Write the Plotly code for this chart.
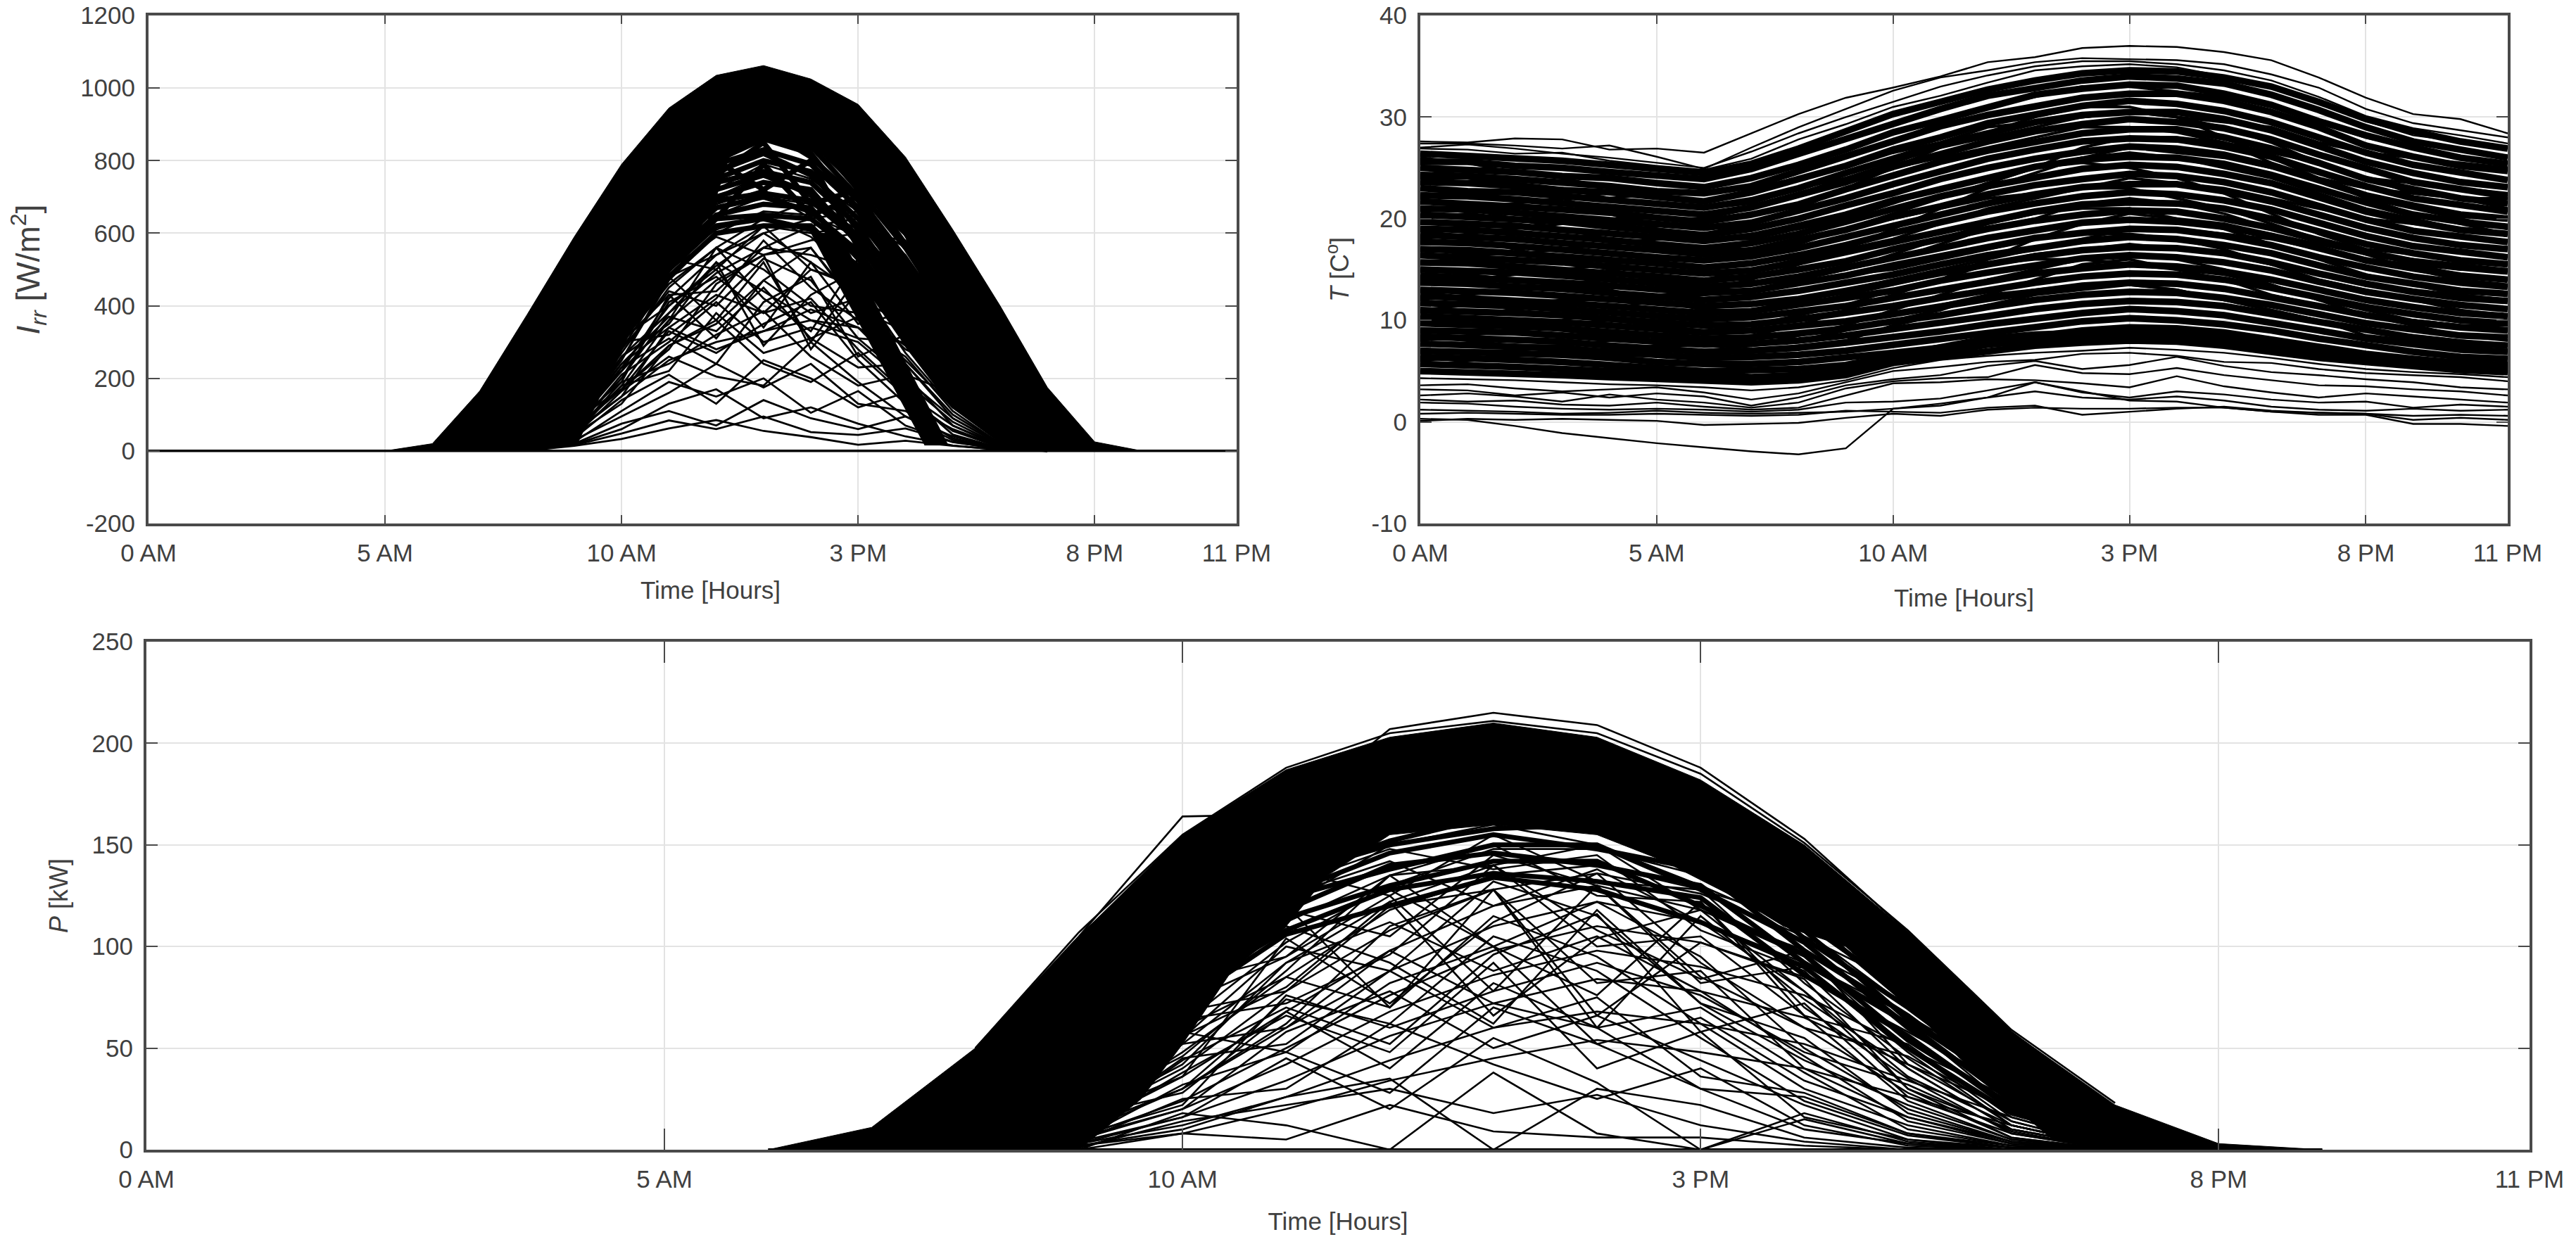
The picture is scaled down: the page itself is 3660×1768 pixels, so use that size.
import plotly.graph_objects as go

W, H = 3660, 1768
PAGE = 8  # the browser's default body margin
hours = list(range(24))
lace_hours = list(range(8, 20))
dome_hours = list(range(9, 19))
tick_vals = [0, 5, 10, 15, 20, 23]
tick_text = ["0 AM", "5 AM", "10 AM", "3 PM", "8 PM", "11 PM"]
irr_ticks = [-200, 0, 200, 400, 600, 800, 1000, 1200]
temp_ticks = [-10, 0, 10, 20, 30, 40]
pow_ticks = [0, 50, 100, 150, 200, 250]

# ---- Irradiance: envelope of the solid band
irr_band_x = [5, 6, 7, 8, 9, 10, 11, 12, 13, 14, 15, 16, 17, 18, 19, 20, 21,
              20, 19, 18.1, 17.2, 16.55, 16.0, 15.0, 14.2, 13.0, 12.3, 12.0, 11.6, 11.2, 10.6, 9.9, 9.05, 8, 7, 6]
irr_band_y = [0, 20, 165, 375, 590, 790, 945, 1035, 1062, 1025, 955, 810, 610, 400, 175, 25, 0,
              0, 0, 0, 200, 400, 590, 720, 820, 860, 820, 700, 600, 540, 447, 248, 16, 2, 0, 0]
irr_stripe_x = [14.0, 14.6, 16.9, 16.4]
irr_stripe_y = [600, 600, 16, 16]
irr_dome = [
    [300, 560, 770, 900, 935, 880, 770, 600, 390, 170],
    [290, 540, 740, 870, 925, 860, 750, 570, 370, 150],
    [280, 530, 730, 850, 900, 870, 720, 560, 360, 140],
    [270, 520, 710, 840, 880, 840, 700, 530, 340, 130],
    [260, 500, 700, 820, 890, 810, 690, 520, 320, 120],
    [250, 490, 680, 800, 860, 820, 660, 500, 300, 110],
    [240, 470, 660, 790, 830, 790, 670, 480, 290, 100],
    [230, 460, 650, 770, 820, 760, 640, 470, 270, 90],
    [220, 440, 630, 750, 800, 770, 610, 450, 260, 80],
    [210, 430, 610, 740, 770, 740, 620, 430, 240, 75],
    [200, 410, 600, 720, 760, 710, 590, 420, 230, 70],
    [190, 400, 580, 700, 740, 720, 570, 400, 210, 60],
    [180, 380, 560, 690, 710, 690, 580, 380, 200, 55],
    [170, 370, 550, 670, 700, 660, 550, 370, 180, 50],
    [160, 350, 530, 650, 680, 670, 530, 350, 170, 45],
    [150, 340, 510, 640, 650, 640, 540, 330, 160, 40],
    [140, 320, 500, 620, 640, 610, 510, 320, 140, 35],
    [130, 310, 480, 600, 620, 620, 490, 300, 130, 30],
    [260, 430, 700, 760, 850, 680, 720, 480, 360, 90],
    [200, 520, 620, 800, 720, 800, 560, 520, 240, 100],
    [170, 420, 680, 640, 790, 650, 700, 410, 300, 70],
]
irr_lace = [
    [1, 14, 33, 62, 85, 55, 38, 17, 28, 14, 4, 0],
    [1, 16, 48, 84, 60, 95, 52, 44, 62, 24, 6, 0],
    [2, 20, 75, 110, 70, 140, 90, 60, 95, 30, 6, 0],
    [2, 18, 60, 130, 170, 90, 120, 75, 40, 15, 3, 0],
    [3, 25, 110, 190, 150, 200, 105, 165, 70, 25, 5, 0],
    [3, 30, 95, 160, 240, 175, 240, 130, 110, 35, 6, 0],
    [4, 35, 140, 210, 130, 250, 200, 120, 160, 45, 8, 0],
    [4, 40, 165, 260, 205, 180, 300, 190, 95, 40, 8, 0],
    [5, 45, 130, 290, 360, 240, 190, 270, 150, 55, 10, 0],
    [5, 50, 190, 240, 320, 385, 260, 180, 210, 70, 12, 0],
    [6, 60, 170, 330, 270, 350, 410, 250, 130, 60, 12, 0],
    [6, 55, 210, 300, 410, 300, 340, 300, 190, 80, 15, 0],
    [7, 70, 240, 370, 330, 450, 310, 230, 240, 90, 18, 1],
    [7, 65, 200, 410, 480, 380, 420, 280, 160, 70, 15, 0],
    [8, 80, 260, 380, 520, 440, 360, 340, 260, 110, 20, 1],
    [8, 75, 280, 440, 400, 530, 470, 310, 200, 90, 18, 1],
    [9, 85, 300, 460, 560, 500, 400, 380, 290, 120, 25, 1],
    [9, 90, 250, 480, 540, 600, 520, 430, 240, 100, 20, 1],
    [10, 100, 320, 500, 590, 540, 560, 390, 330, 150, 30, 2],
    [10, 95, 330, 530, 500, 620, 500, 460, 270, 120, 25, 1],
    [12, 110, 340, 520, 610, 650, 590, 470, 360, 170, 35, 2],
    [15, 130, 370, 560, 680, 720, 640, 560, 420, 200, 45, 2],
    [20, 150, 390, 590, 700, 760, 700, 600, 470, 240, 50, 3],
    [25, 170, 410, 610, 720, 790, 750, 660, 500, 260, 60, 4],
    [8, 95, 290, 510, 650, 700, 680, 610, 470, 250, 55, 3],
    [6, 80, 250, 470, 600, 660, 650, 590, 480, 280, 70, 4],
    [10, 90, 270, 450, 560, 640, 690, 640, 520, 310, 90, 6],
    [5, 70, 220, 420, 540, 620, 600, 620, 500, 330, 100, 8],
    [7, 75, 230, 400, 510, 600, 640, 660, 540, 350, 120, 10],
    [4, 60, 200, 380, 490, 560, 620, 640, 560, 370, 140, 12],
    [3, 50, 180, 360, 470, 540, 580, 600, 580, 390, 160, 15],
    [12, 120, 300, 430, 440, 560, 540, 500, 430, 300, 110, 12],
    [9, 85, 240, 340, 430, 380, 500, 450, 380, 260, 125, 14],
    [6, 60, 170, 290, 350, 470, 380, 420, 350, 230, 95, 10],
    [5, 50, 150, 250, 300, 330, 360, 310, 300, 200, 80, 8],
    [10, 120, 280, 480, 360, 520, 300, 480, 310, 180, 60, 6],
    [8, 100, 310, 400, 500, 340, 520, 350, 380, 210, 70, 6],
    [9, 110, 220, 360, 560, 420, 330, 530, 300, 240, 85, 7],
    [7, 90, 300, 320, 420, 580, 450, 360, 420, 190, 65, 5],
    [6, 80, 190, 430, 310, 470, 560, 400, 280, 220, 75, 6],
    [5, 70, 260, 350, 520, 290, 430, 500, 340, 170, 55, 4],
    [6, 85, 170, 280, 460, 540, 280, 440, 370, 150, 50, 3],
    [5, 60, 230, 310, 240, 410, 480, 260, 320, 140, 40, 2],
    [4, 55, 150, 340, 280, 330, 390, 340, 210, 160, 45, 3],
    [3, 45, 180, 220, 380, 270, 310, 370, 250, 120, 35, 2],
]

# ---- Temperature: one line per day
temp_core = [
    [26.4,26.2,26.0,25.7,25.3,24.9,24.5,25.4,26.9,28.6,30.3,31.5,32.7,33.6,34.3,34.6,34.5,33.9,33.0,31.5,29.8,28.6,27.6,26.9],
    [25.6,25.6,25.2,25.0,24.6,24.2,23.9,24.9,26.4,27.8,29.4,30.8,32.1,32.9,33.6,34.0,33.8,33.3,32.2,30.7,29.0,27.6,26.8,26.0],
    [25.0,24.8,24.6,24.2,24.0,23.5,23.1,24.0,25.3,26.8,28.5,29.7,31.0,32.2,32.8,33.2,33.1,32.3,31.2,29.6,28.2,27.0,26.0,25.4],
    [24.3,24.2,23.9,23.6,23.2,22.7,22.5,23.2,24.7,26.2,27.6,29.1,30.2,31.1,31.9,32.3,32.3,31.6,30.5,29.0,27.2,26.1,25.2,24.7],
    [23.6,23.5,23.2,22.8,22.6,22.1,21.7,22.6,23.9,25.2,26.8,28.0,29.4,30.3,31.1,31.6,31.3,30.6,29.5,28.0,26.5,25.3,24.5,23.8],
    [23.0,22.7,22.6,22.2,21.8,21.5,21.1,21.8,23.0,24.5,25.9,27.3,28.4,29.5,30.2,30.5,30.5,29.8,28.7,27.2,25.6,24.5,23.6,23.1],
    [22.3,22.2,21.9,21.5,21.2,20.7,20.4,21.1,22.3,23.6,25.1,26.3,27.6,28.6,29.3,29.8,29.5,28.9,27.8,26.3,24.9,23.6,22.9,22.2],
    [21.7,21.5,21.2,20.9,20.6,20.1,19.7,20.4,21.4,22.9,24.2,25.6,26.7,27.6,28.4,28.8,28.8,28.0,26.9,25.5,23.9,22.9,22.0,21.5],
    [21.0,20.9,20.6,20.2,19.8,19.5,19.1,19.6,20.8,22.0,23.4,24.6,25.9,26.8,27.6,27.9,27.8,27.1,26.1,24.6,23.2,22.0,21.3,20.7],
    [20.4,20.2,19.9,19.7,19.2,18.8,18.4,19.0,20.0,21.3,22.5,23.9,25.0,25.9,26.6,27.1,26.9,26.3,25.2,23.8,22.3,21.3,20.4,20.0],
    [19.7,19.5,19.3,18.9,18.6,18.2,17.8,18.3,19.3,20.4,21.8,22.9,24.1,25.1,25.8,26.1,26.0,25.4,24.3,22.9,21.6,20.4,19.7,19.2],
    [19.0,18.9,18.6,18.3,17.9,17.5,17.1,17.6,18.5,19.7,20.9,22.2,23.2,24.1,24.9,25.3,25.1,24.4,23.5,22.1,20.7,19.7,18.9,18.5],
    [18.4,18.2,18.0,17.6,17.3,16.9,16.5,16.9,17.9,18.9,20.2,21.2,22.4,23.3,23.9,24.4,24.2,23.6,22.6,21.3,19.9,18.8,18.2,17.7],
    [17.7,17.6,17.3,17.0,16.6,16.2,15.9,16.3,17.1,18.2,19.3,20.5,21.5,22.4,23.1,23.4,23.4,22.7,21.7,20.4,19.1,18.1,17.4,17.0],
    [17.0,16.9,16.6,16.3,16.0,15.6,15.2,15.6,16.4,17.4,18.6,19.6,20.7,21.5,22.2,22.6,22.4,21.8,20.9,19.6,18.3,17.3,16.7,16.2],
    [16.4,16.2,16.0,15.7,15.3,14.9,14.6,14.9,15.7,16.7,17.7,18.8,19.8,20.7,21.4,21.6,21.5,21.0,20.0,18.7,17.5,16.6,15.9,15.5],
    [15.7,15.6,15.3,15.0,14.7,14.3,13.9,14.3,15.0,15.8,17.0,18.0,19.0,19.8,20.4,20.8,20.7,20.0,19.1,17.9,16.7,15.8,15.2,14.8],
    [15.0,14.9,14.7,14.4,14.0,13.6,13.3,13.6,14.3,15.2,16.1,17.1,18.1,18.9,19.6,19.9,19.7,19.2,18.3,17.1,15.9,15.1,14.4,14.0],
    [14.4,14.2,14.0,13.7,13.4,13.0,12.7,12.9,13.6,14.4,15.4,16.3,17.2,18.1,18.6,19.0,18.9,18.3,17.4,16.2,15.2,14.3,13.7,13.3],
    [13.7,13.6,13.3,13.1,12.7,12.3,12.0,12.3,12.9,13.7,14.5,15.5,16.4,17.1,17.8,18.2,18.0,17.4,16.6,15.4,14.3,13.6,12.9,12.6],
    [13.0,12.9,12.7,12.4,12.1,11.7,11.4,11.6,12.1,12.9,13.8,14.6,15.5,16.3,16.9,17.2,17.1,16.6,15.7,14.6,13.6,12.8,12.2,11.9],
    [12.4,12.2,12.0,11.7,11.4,11.1,10.7,10.9,11.5,12.2,12.9,13.9,14.7,15.4,16.1,16.4,16.2,15.7,14.9,13.8,12.8,12.1,11.5,11.1],
    [11.7,11.6,11.4,11.1,10.8,10.4,10.1,10.3,10.8,11.4,12.2,13.0,13.8,14.6,15.1,15.5,15.3,14.8,14.0,13.0,12.0,11.3,10.7,10.4],
    [11.0,10.9,10.7,10.5,10.1,9.8,9.5,9.6,10.1,10.7,11.4,12.2,13.0,13.7,14.3,14.6,14.5,14.0,13.2,12.2,11.3,10.6,10.0,9.7],
    [10.4,10.2,10.1,9.8,9.5,9.1,8.8,9.0,9.4,9.9,10.6,11.4,12.1,12.8,13.4,13.7,13.6,13.1,12.3,11.4,10.5,9.8,9.3,9.0],
    [9.7,9.6,9.4,9.2,8.8,8.5,8.2,8.3,8.7,9.2,9.9,10.5,11.3,12.0,12.5,12.8,12.7,12.2,11.5,10.6,9.7,9.1,8.5,8.3],
    [9.0,8.9,8.8,8.5,8.2,7.8,7.6,7.7,8.0,8.5,9.1,9.7,10.4,11.1,11.6,11.9,11.8,11.4,10.6,9.8,9.0,8.3,7.8,7.5],
    [8.4,8.2,8.1,7.9,7.5,7.2,6.9,7.0,7.3,7.8,8.3,8.9,9.6,10.2,10.7,11.1,10.9,10.5,9.8,9.0,8.2,7.6,7.1,6.9],
    [7.7,7.6,7.4,7.2,6.9,6.6,6.3,6.4,6.6,7.0,7.6,8.1,8.7,9.4,9.9,10.2,10.0,9.6,9.0,8.2,7.5,6.9,6.4,6.2],
    [7.0,6.9,6.8,6.6,6.3,5.9,5.7,5.7,5.9,6.3,6.8,7.3,7.9,8.5,9.0,9.3,9.2,8.8,8.1,7.4,6.7,6.2,5.8,5.6],
    [6.4,6.3,6.1,5.9,5.6,5.3,5.0,5.1,5.2,5.6,6.5,7.4,8.2,8.6,8.8,8.9,8.8,8.4,7.8,7.1,6.4,6.0,5.6,5.4],
    [5.7,5.6,5.4,5.2,5.0,4.7,4.5,4.4,4.6,5.0,6.1,6.9,7.6,8.0,8.2,8.4,8.3,7.9,7.3,6.7,6.2,5.8,5.4,5.1],
    [5.0,4.9,4.8,4.6,4.4,4.2,4.0,3.9,4.1,4.6,5.8,6.4,7.0,7.5,7.8,8.0,7.9,7.5,6.9,6.3,5.9,5.5,5.1,4.9],
]
temp_cross = [
    [24,24,23.5,23,22,21.5,21,21.5,23,24,25,26,27,28,29,29,28.5,27.5,25.5,24,22,21,20,19],
    [18,18.5,19,19.5,20,20,20,21,22.5,24,25.5,27,28,29,30,30.5,30,29.5,29,27.5,26.5,26,25.5,25],
    [12,12.5,13,13.5,14,14,14,15,16,17,18,19.5,21,22,23,24,23.5,23,22,21,20,19.5,19,18.5],
    [8,8.5,9,9.5,10,10,10.5,11,12,13,14,15,16,17,18,19,19,18.5,18,17,16,15.5,15,15],
    [22,21,20,19,18,17.5,17,17,18,19,20,21,22,22.5,23,23,22,21,19.5,18,16.5,15,14,13.5],
    [15,14.5,14,13.5,13,12,11,11,11.5,12.5,13.5,14.5,15.5,16,16,15.5,15,14.5,13.5,12,11,10,9.5,9],
    [10,10,9.5,9,8.5,8,7.5,7.5,8.5,9.5,11,12.5,14,15,16,16.5,16,15,13.5,12,10.5,9.5,8.5,8],
    [6,6.5,7,7.5,8,8.5,9,9.5,10.5,11.5,13,14,15.5,16.5,17,17.5,17,16.5,15.5,14.5,13.5,13,12.5,12],
    [20,20.5,20,20,19.5,19,18.5,19.5,21,23,25,27,28.5,30,31,31,30,28,26,24,22,20.5,19.5,18.5],
    [26,25.5,24.5,24,23,22.5,22.5,23,24,25,26.5,27.5,29,29.5,30,30.5,30,29,27.5,25.5,24,22.5,22,21],
    [14,14,14.5,15,15.5,16,16,16.5,17.5,19,20.5,22,23.5,25,26,27,26.5,26,25,24,23,22.5,22,22],
    [16.5,16,15,14.5,14,13.5,13,13,13.5,14.5,15,16,17,18,18.5,18.5,18,17,15.5,14,13,12,11,10.5],
    [11,11.5,11.5,12,12,12.5,12.5,13,14,15,16,17.5,19,20,21.5,22,21.5,20.5,19,18,17,16.5,16,15.5],
    [7,7,7,6.5,6.5,6.5,6.5,7,7.5,8,9.5,10.5,11.5,12.5,13,13.5,13,12,11,10,8.5,8,7.5,7],
    [9,9,9.5,10,11,12,13,14,15.5,17,19,21,23,24.5,26,26.5,26,25,24,22.5,21,20,19,18.5],
    [25,24,23,22,20.5,19,18,18,19,20,21.5,23,24,25,25.5,25,24,22.5,20.5,18.5,17,15.5,14.5,14],
    [17,16.5,16.5,17,17.5,18,18,18.5,19,20,21,22,23.5,25,27,28,28,27.5,26.5,25.5,24,23.5,23,22.5],
    [13,12,11,10.5,10,9.5,9,9,9.5,10,10.5,11.5,12.5,13,13.5,13.5,13,12,11,10,9,8.5,8,7.5],
    [5.5,6,6.5,7,7,7.5,7.5,8.5,9.5,11,12.5,14,16,18,19.5,20.5,20,19.5,18.5,17.5,16.5,16,15.5,15],
    [21,21,21.5,22,22,22.5,22.5,23,24.5,26,27.5,29.5,31,32,33,33,32.5,32,31,29.5,28,27,26,25.5],
    [19,18,17,16,15,14,13.5,13.5,14,15,16.5,18,19.5,20.5,21,21,20,19,17.5,16,14.5,13.5,12.5,12],
    [8.5,8,7.5,7.5,7,7,7,7.5,8,9,10,11,12.5,14,15.5,16,15,14,12.5,11.5,10.5,10,9.5,9.5],
]
temp_thin = [
    [27.6,27.5,27.9,27.8,26.8,26.9,26.5,28.4,30.3,31.9,32.9,34.0,35.4,35.9,36.8,37.0,36.9,36.4,35.6,33.9,31.9,30.3,29.8,28.4],
    [27.4,27.4,27.2,26.9,27.2,26.1,24.9,27.0,29.0,30.8,32.6,33.9,34.6,35.4,35.8,35.7,35.6,35.2,34.2,32.9,30.8,29.4,28.7,28.0],
    [27.0,27.3,26.9,26.4,26.0,25.5,25.0,26.6,28.4,30.0,31.5,33.0,34.1,35.0,35.5,35.5,35.2,34.6,33.6,32.0,30.1,28.9,28.2,27.4],
    [26.9,26.8,26.4,26.5,25.7,25.2,24.8,25.9,27.8,29.3,31.0,32.1,33.4,34.6,35.0,35.2,34.9,34.0,33.0,31.3,29.6,28.2,27.6,27.1],
    [4.3,4.2,4.1,3.9,3.7,3.6,3.4,3.1,3.4,4.1,5.3,6.1,6.5,6.8,7.0,7.3,7.1,6.8,6.3,5.7,5.2,4.9,4.7,4.4],
    [3.6,3.7,3.3,3.0,3.2,3.4,2.9,2.2,2.8,3.9,5.0,5.4,5.9,6.1,6.7,6.8,6.5,5.9,5.8,5.2,4.8,4.6,4.4,4.0],
    [3.2,3.1,2.6,2.9,2.4,2.8,2.5,1.6,2.4,3.6,4.2,4.6,5.5,6.0,5.2,5.6,6.4,5.5,4.9,4.6,4.2,3.9,3.4,3.2],
    [2.6,2.8,2.5,2.0,2.7,2.2,1.9,1.4,1.9,3.3,4.0,4.3,4.4,5.6,4.8,4.7,5.3,4.6,4.1,3.6,3.5,3.2,3.0,2.6],
    [2.2,2.0,2.1,1.7,1.6,1.9,1.5,1.2,1.4,2.6,3.8,3.9,4.2,4.1,3.8,3.4,4.5,3.5,2.9,2.4,2.8,2.5,2.2,1.9],
    [1.9,1.8,1.5,1.3,1.2,1.3,1.2,1.0,1.2,1.9,2.0,2.3,3.1,3.9,2.9,2.4,3.0,2.7,2.2,1.9,2.0,1.4,1.7,1.5],
    [1.2,1.1,1.0,0.8,0.9,1.1,0.9,0.8,0.9,1.0,1.3,1.6,2.4,3.0,2.4,2.2,2.5,2.1,1.5,1.2,1.1,1.3,1.1,1.2],
    [0.8,0.9,0.8,0.7,0.7,0.8,0.7,0.6,0.7,1.1,1.0,0.9,1.4,1.6,0.7,1.0,1.3,1.5,1.1,0.9,0.8,0.6,0.7,0.6],
    [0.1,0.3,0.2,0.3,0.2,0.1,-0.3,-0.2,-0.1,0.4,0.8,0.6,1.2,1.4,1.3,1.3,1.4,1.4,1.0,0.7,0.7,-0.2,-0.2,-0.4],
    [0.3,0.2,-0.4,-1.1,-1.6,-2.1,-2.5,-2.9,-3.2,-2.6,1.3,1.8,2.4,3.9,3.0,2.1,2.0,1.4,1.0,0.9,0.8,0.2,0.4,0.2],
]

# ---- Power: envelope of the solid band and single lines
pow_band_x = [6, 7, 8, 9, 10, 11, 12, 13, 14, 15, 16, 17, 18, 19, 20, 21,
              20, 19, 18.4, 18, 17.5, 17, 16.4, 15.8, 15, 14, 13, 12, 11.4, 11, 10.5, 10, 9.6, 9, 7.1]
pow_band_y = [0, 11, 50, 105, 155, 187, 203, 210, 203, 182, 150, 107, 58, 22, 3, 0,
              0, 0, 5, 22, 45, 72, 100, 110, 135, 155, 160, 155, 135, 110, 90, 52, 25, 0, 0]
pow_floor_x = [6, 21]
pow_floor_y = [0, 0]
pow_dome = [
    [38, 85, 128, 155, 172, 186, 178, 156, 125, 88, 46, 14],
    [35, 80, 122, 150, 178, 182, 172, 160, 118, 84, 42, 13],
    [33, 78, 118, 146, 168, 176, 175, 150, 120, 80, 40, 12],
    [30, 72, 112, 150, 160, 172, 165, 152, 112, 76, 36, 11],
    [28, 70, 108, 140, 162, 168, 162, 142, 115, 72, 34, 10],
    [26, 66, 112, 134, 152, 164, 158, 146, 104, 70, 32, 9],
    [24, 62, 100, 135, 150, 158, 160, 134, 108, 64, 30, 8],
    [22, 58, 96, 126, 146, 155, 148, 138, 98, 66, 28, 8],
    [20, 55, 92, 124, 138, 150, 150, 128, 102, 60, 26, 7],
    [18, 50, 88, 118, 140, 146, 140, 130, 92, 62, 24, 6],
    [16, 48, 82, 114, 130, 142, 142, 120, 96, 54, 22, 5],
    [14, 44, 78, 108, 128, 136, 132, 124, 86, 56, 20, 5],
    [12, 40, 72, 106, 120, 134, 128, 112, 90, 50, 18, 4],
]
pow_thin = [
    [50, 105, 164, 165, 207, 215, 209, 188, 153, 107, 58, 20],
    [50, 107, 155, 188, 205, 211, 205, 185, 151, 108, 59, 23],
    [0, 0, 8, 5, 22, 9, 6, 6, 2, 0, 0, 0],
    [0, 1, 14, 22, 30, 18, 27, 12, 4, 0, 0, 0],
    [0, 0, 18, 12, 0, 38, 8, 0, 15, 3, 0, 0],
    [0, 2, 10, 26, 35, 0, 30, 22, 6, 1, 0, 0],
    [0, 3, 16, 45, 20, 55, 33, 0, 18, 4, 0, 0],
    [1, 4, 25, 30, 62, 42, 25, 40, 12, 2, 0, 0],
    [1, 5, 32, 48, 28, 70, 52, 30, 10, 3, 0, 0],
    [1, 6, 20, 58, 78, 50, 66, 44, 22, 5, 0, 0],
    [1, 8, 38, 66, 48, 92, 40, 58, 16, 5, 1, 0],
    [2, 9, 45, 52, 88, 60, 75, 36, 28, 8, 1, 0],
    [2, 10, 30, 74, 62, 105, 88, 55, 24, 7, 1, 0],
    [2, 12, 52, 60, 98, 72, 60, 70, 38, 10, 2, 0],
    [3, 14, 60, 85, 70, 115, 95, 62, 30, 12, 2, 0],
    [3, 15, 42, 92, 112, 88, 105, 78, 46, 14, 3, 0],
    [3, 18, 68, 78, 120, 128, 82, 88, 40, 16, 3, 0],
    [4, 20, 55, 100, 88, 132, 115, 72, 55, 18, 4, 0],
    [4, 22, 75, 108, 128, 100, 122, 95, 50, 20, 4, 0],
    [5, 25, 82, 95, 135, 140, 100, 105, 66, 24, 5, 0],
    [5, 28, 65, 118, 105, 145, 130, 85, 60, 28, 6, 0],
    [6, 30, 88, 125, 142, 120, 138, 112, 78, 30, 6, 0],
    [6, 32, 95, 112, 135, 150, 125, 122, 70, 35, 8, 0],
    [7, 35, 78, 130, 148, 138, 145, 108, 88, 40, 10, 1],
    [8, 38, 100, 138, 125, 155, 132, 128, 82, 45, 12, 1],
    [9, 42, 105, 120, 150, 160, 150, 118, 95, 50, 14, 1],
    [5, 22, 62, 102, 130, 148, 148, 135, 102, 62, 20, 2],
    [4, 18, 52, 92, 122, 140, 150, 130, 108, 70, 28, 3],
    [3, 16, 48, 85, 118, 135, 140, 128, 112, 75, 34, 4],
    [2, 14, 40, 78, 108, 128, 136, 126, 105, 80, 38, 5],
    [2, 10, 36, 68, 98, 120, 130, 118, 98, 72, 42, 7],
    [1, 8, 30, 60, 88, 110, 122, 112, 92, 66, 36, 8],
    [1, 6, 24, 50, 76, 98, 110, 102, 85, 58, 30, 6],
    [1, 5, 20, 42, 68, 86, 98, 90, 76, 50, 25, 4],
    [1, 4, 16, 34, 56, 72, 84, 78, 65, 42, 20, 3],
    [0, 3, 12, 26, 44, 60, 68, 62, 52, 34, 16, 2],
    [0, 2, 8, 20, 34, 45, 54, 48, 40, 26, 12, 1],
    [8, 32, 70, 110, 92, 62, 118, 72, 44, 22, 5, 0],
    [6, 26, 58, 48, 82, 100, 52, 65, 34, 16, 4, 0],
    [4, 16, 28, 68, 40, 82, 60, 30, 26, 8, 2, 0],
    [6, 28, 80, 120, 70, 128, 60, 115, 74, 40, 10, 1],
    [5, 24, 72, 95, 125, 78, 130, 82, 90, 48, 12, 1],
    [4, 20, 46, 88, 135, 100, 76, 122, 66, 52, 16, 2],
    [3, 18, 64, 72, 96, 140, 108, 84, 98, 42, 14, 1],
    [3, 15, 36, 104, 72, 112, 136, 92, 60, 46, 18, 2],
    [2, 12, 56, 80, 122, 66, 104, 118, 78, 36, 12, 1],
    [2, 10, 30, 62, 110, 128, 66, 102, 84, 30, 10, 1],
    [1, 8, 44, 70, 52, 96, 116, 58, 72, 26, 8, 0],
    [1, 7, 22, 76, 60, 78, 92, 76, 48, 32, 9, 0],
]
zero_line = [0] * 24

INK = "#000000"
GRID = "#e3e3e3"
FRAME = "#4a4a4a"
TEXT = "#404040"
FONT = "Liberation Sans"
TICK_SIZE = 35

fig = go.Figure()


def add_line(x, y, ax, width=2.4):
    fig.add_trace(go.Scatter(x=x, y=y, xaxis="x" + ax, yaxis="y" + ax, mode="lines",
                             line=dict(color=INK, width=width), showlegend=False, hoverinfo="skip"))


def add_band(x, y, ax):
    fig.add_trace(go.Scatter(x=x, y=y, xaxis="x" + ax, yaxis="y" + ax, mode="lines", fill="toself",
                             fillcolor=INK, line=dict(color=INK, width=1), showlegend=False, hoverinfo="skip"))


add_line(hours, zero_line, "", 3.5)
add_band(irr_band_x, irr_band_y, "")
add_band(irr_stripe_x, irr_stripe_y, "")
for row in irr_dome:
    add_line(dome_hours, row, "", 7.5)
for row in irr_lace:
    add_line(lace_hours, row, "", 2.8)

for row in temp_core:
    add_line(hours, row, "2", 9.5)
for row in temp_cross:
    add_line(hours, row, "2", 4)
for row in temp_thin:
    add_line(hours, row, "2", 2.4)

add_line(pow_floor_x, pow_floor_y, "3", 4)
add_band(pow_band_x, pow_band_y, "3")
for row in pow_dome:
    add_line(lace_hours, row, "3", 7)
for row in pow_thin:
    add_line(lace_hours, row, "3", 2.6)


def x_axis(left, right, anchor, tick_len, title_text, title_gap):
    return dict(domain=[(left - PAGE) / W, (right - PAGE) / W], anchor=anchor, range=[0, 23], tickmode="array",
                tickvals=tick_vals, ticktext=tick_text, ticks="inside", ticklen=tick_len, tickwidth=2,
                tickcolor=FRAME, showgrid=True, gridcolor=GRID, gridwidth=2, zeroline=False,
                showline=True, linecolor=FRAME, linewidth=4, mirror="allticks", automargin=False,
                ticklabelstandoff=8, ticklabeloverflow="allow",
                tickfont=dict(family=FONT, size=TICK_SIZE, color=TEXT),
                title=dict(text=title_text, font=dict(family=FONT, size=TICK_SIZE, color=TEXT), standoff=title_gap))


def y_axis(top, bottom, anchor, lo, hi, vals, label, label_size, title_gap):
    return dict(domain=[1 - (bottom - PAGE) / H, 1 - (top - PAGE) / H], anchor=anchor, range=[lo, hi], tickmode="array",
                tickvals=vals, ticktext=[str(v) for v in vals],
                ticks="inside", ticklen=16, tickwidth=2, tickcolor=FRAME, showgrid=True, gridcolor=GRID,
                gridwidth=2, zeroline=False, showline=True, linecolor=FRAME, linewidth=4, mirror="allticks",
                automargin=False, ticklabelstandoff=8, ticklabeloverflow="allow",
                tickfont=dict(family=FONT, size=TICK_SIZE, color=TEXT),
                title=dict(text=label, font=dict(family=FONT, size=label_size, color=TEXT), standoff=title_gap))


fig.update_layout(
    width=W, height=H, autosize=False,
    margin=dict(l=0, r=0, t=0, b=0, autoexpand=False),
    paper_bgcolor="white", plot_bgcolor="white", showlegend=False,
    xaxis=x_axis(211, 1757, "y", 12, "", 0),
    yaxis=y_axis(22, 744, "x", -200, 1200, irr_ticks, "<i>I<sub>rr</sub></i> [W/m<sup>2</sup>]", 46, 50),
    xaxis2=x_axis(2018, 3563, "y2", 12, "Time [Hours]", 34),
    yaxis2=y_axis(22, 744, "x2", -10, 40, temp_ticks, "<i>T</i> [C<sup>o</sup>]", 36, 22),
    xaxis3=x_axis(208, 3594, "y3", 30, "Time [Hours]", 30),
    yaxis3=y_axis(912, 1634, "x3", 0, 250, pow_ticks, "<i>P</i> [kW]", 36, 24),
)
# the first panel's axis title sits right of the panel centre in the reference
fig.add_annotation(text="Time [Hours]", xref="paper", yref="paper", x=(1010 - PAGE) / W, y=1 - (838 - PAGE) / H,
                   showarrow=False, xanchor="center", yanchor="middle",
                   font=dict(family=FONT, size=TICK_SIZE, color=TEXT))

fig.write_html("out.html")
